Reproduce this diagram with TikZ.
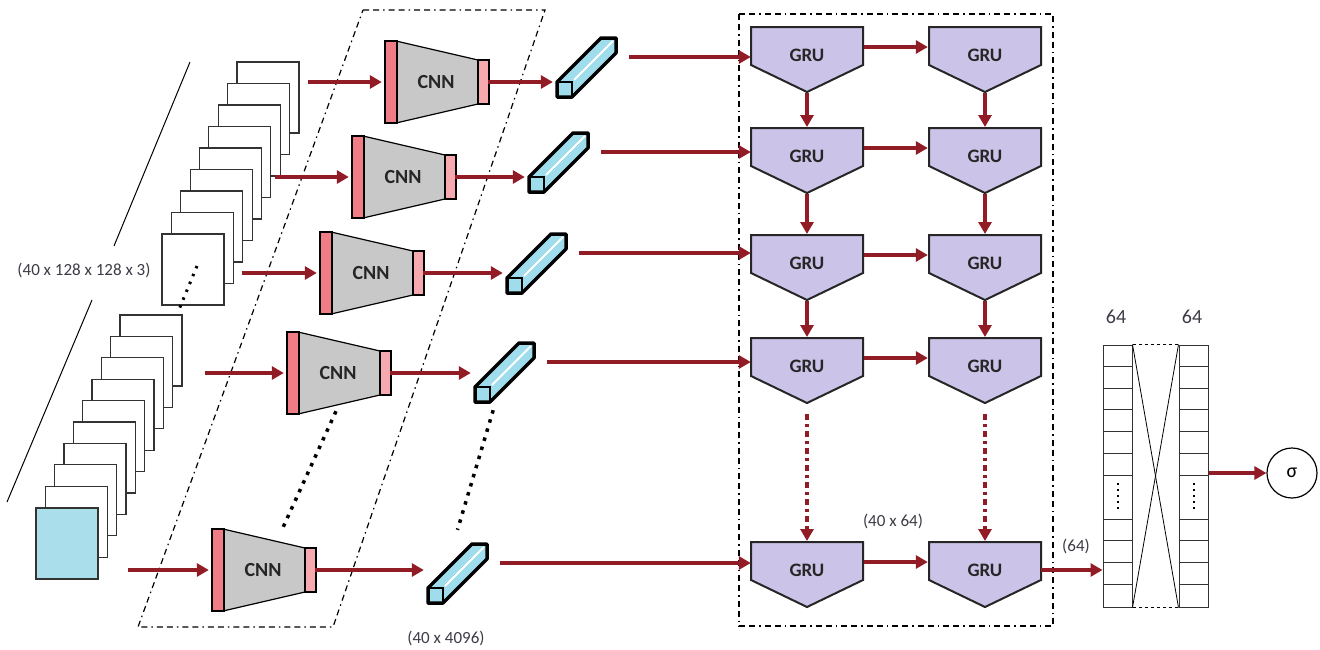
\documentclass[tikz,border=0pt]{standalone}
\usepackage{fontspec}
\setmainfont{Carlito}
\usetikzlibrary{arrows.meta,calc}

\definecolor{arrowred}{RGB}{146,28,38}
\definecolor{pinkdark}{RGB}{240,124,134}
\definecolor{pinklight}{RGB}{246,170,176}
\definecolor{cnngray}{RGB}{200,200,200}
\definecolor{grufill}{RGB}{204,196,232}
\definecolor{cubecyan}{RGB}{160,221,236}
\definecolor{framecyan}{RGB}{170,222,235}
\definecolor{lbltext}{RGB}{60,60,70}

\begin{document}
\begin{tikzpicture}[x=1pt,y=-1pt,>={Triangle[length=12pt,width=13pt]},
  redarrow/.style={->,draw=arrowred,line width=3.5pt},
  reddots/.style={->,draw=arrowred,line width=3.5pt,dash pattern=on 6pt off 4pt on 3pt off 4pt},
  blackdots/.style={line width=3.5pt,dash pattern=on 3.5pt off 6pt},
  dashdot/.style={line width=1.2pt,dash pattern=on 6pt off 4pt on 6pt off 4pt on 1.5pt off 4pt},
  frame/.style={draw=black!80,line width=1.2pt,fill=white},
  cnnbox/.style={minimum width=104pt,minimum height=82pt,inner sep=0pt,font=\bfseries\fontsize{20}{20}\selectfont,text=black!85},
  grubox/.style={minimum width=112pt,minimum height=20pt,inner sep=0pt,font=\bfseries\fontsize{19}{19}\selectfont,text=black!85},
  lbl/.style={font=\fontsize{17}{17}\selectfont,text=lbltext,inner sep=1pt},
  densecol/.style={draw=black!80,line width=1pt,minimum width=29pt,minimum height=262pt,inner sep=0pt}]

  \useasboundingbox (0,0) rectangle (1320,649);
  \fill[white] (0,0) rectangle (1320,649);

  % input frames
  \draw[line width=1pt] (190,62) -- (114,246);
  \draw[line width=1pt] (92,300) -- (7,502);
  \node[lbl] (inlbl) at (84,270) {(40 x 128 x 128 x 3)};
  \foreach \i in {0,...,8}
    \draw[frame] ({237-9.375*\i},{62+21.5*\i}) rectangle ++(62,71);
  \foreach \i in {0,...,8}
    \draw[frame] ({120-9.33*\i},{315+21.4*\i}) rectangle ++(62,71);
  \draw[frame,fill=framecyan] (36,508) rectangle ++(62,71);
  \draw[line width=3pt,dash pattern=on 2.5pt off 6pt] (197,266) -- (178,312);

  % time distributed box
  \draw[dashdot] (363,10) -- (545,10) -- (333,627) -- (138,627) -- cycle;

  % cnn blocks
  \foreach \n/\l/\y/\s in {1/385/82/308,2/352/177/275,3/320/273/242,4/287/373/205,5/212/570/128}{
    \draw[line width=1.2pt,fill=cnngray] (\l+11,\y-41) -- (\l+93,\y-22) -- (\l+93,\y+22) -- (\l+11,\y+41) -- cycle;
    \draw[line width=1.2pt,fill=pinkdark] (\l,\y-41) rectangle ++(12,82);
    \draw[line width=1.2pt,fill=pinklight] (\l+93,\y-22) rectangle ++(11,44);
    \node[cnnbox] (cnn\n) at (\l+51,\y) {CNN};
    \coordinate (in\n) at (\s,\y);
    \draw[redarrow] (in\n) -- ($(cnn\n.west)+(-2,0)$);
  }
  \draw[blackdots] ($(cnn4.south)+(-2,-3)$) -- ($(cnn5.north)+(18,3)$);

  % feature vectors
  \foreach \n/\fx/\fy in {1/557/97,2/529/192,3/507/293,4/475/402,5/428/603}{
    \filldraw[fill=cubecyan,draw=black,line width=3.5pt,line join=round]
      (\fx,\fy) -- (\fx,\fy-15) -- (\fx+44,\fy-59) -- (\fx+59,\fy-59) -- (\fx+59,\fy-44) -- (\fx+15,\fy) -- cycle;
    \draw[white,line width=2pt] (\fx+17,\fy-17) -- (\fx+56,\fy-56);
    \draw[black,line width=2.5pt] (\fx,\fy-15) rectangle (\fx+15,\fy);
    \node[minimum size=15pt,inner sep=0pt] (cub\n) at (\fx+7.5,\fy-7.5) {};
    \coordinate (out\n) at (\fx+72,\fy-40);
    \draw[redarrow] (cnn\n.east) -- ($(cnn\n.east -| cub\n.west)+(-4,0)$);
  }
  \draw[blackdots] ($(cub4.south east)+(3,8)$) -- ($(cub5.north)+(22,-58)$);

  % gru layers
  \draw[dashdot] (739,14) rectangle (1053,626);
  \foreach \r/\y in {1/55,2/156,3/263,4/366,5/570}
    \foreach \c/\x in {1/807,2/985}{
      \filldraw[fill=grufill,draw=black!85,line width=2pt]
        (\x-56,\y-28) -- (\x+56,\y-28) -- (\x+56,\y+10) -- (\x,\y+37) -- (\x-56,\y+10) -- cycle;
      \node[grubox] (g\r\c) at (\x,\y) {GRU};
    }
  \foreach \n in {1,...,5}
    \draw[redarrow] (out\n) -- (out\n -| g\n1.west);
  \foreach \r in {1,...,5}
    \draw[redarrow] ($(g\r1.east)+(1,-8)$) -- ($(g\r2.west)+(-1,-8)$);
  \foreach \r/\s in {1/2,2/3,3/4}
    \foreach \c in {1,2}
      \draw[redarrow] ($(g\r\c)+(0,38)$) -- ($(g\s\c)+(0,-29)$);
  \foreach \c in {1,2}
    \draw[reddots] ($(g4\c)+(0,48)$) -- ($(g5\c)+(0,-29)$);
  \node[lbl] (gruout) at (893,521) {(40 x 64)};

  % dense layers
  \node[densecol] (dl) at (1117.5,476) {};
  \node[densecol] (dr) at (1193.5,476) {};
  \foreach \col in {dl,dr}{
    \foreach \k in {1,...,6,8,9,10,11}
      \draw[line width=1pt,black!80] ($(\col.north west)+(0,\k*21.83)$) -- ++(29,0);
    \draw[line width=2pt,dash pattern=on 2pt off 4pt] ($(\col.north)+(0,6*21.83+8)$) -- ($(\col.north)+(0,8*21.83-8)$);
  }
  \draw[line width=1pt,dashed] (dl.north east) -- (dr.north west);
  \draw[line width=1pt,dashed] (dl.south east) -- (dr.south west);
  \draw[line width=0.8pt] (dl.north east) -- (dr.south west);
  \draw[line width=0.8pt] (dr.north west) -- (dl.south east);
  \node[lbl,font=\fontsize{20}{20}\selectfont] (unitsl) at (1116,317) {64};
  \node[lbl,font=\fontsize{20}{20}\selectfont] (unitsr) at (1192,317) {64};
  \draw[redarrow] (g52.east) -- (g52.east -| dl.west);
  \node[lbl] (lastlbl) at (1076,546) {(64)};
  \node[circle,draw,line width=1.2pt,minimum size=50pt,inner sep=0pt,font=\fontsize{20}{20}\selectfont] (sig) at (1292,473) {σ};
  \draw[redarrow] (dr.east |- sig) -- (sig.west);
  \node[lbl] (veclbl) at (446,638) {(40 x 4096)};
\end{tikzpicture}
\end{document}
